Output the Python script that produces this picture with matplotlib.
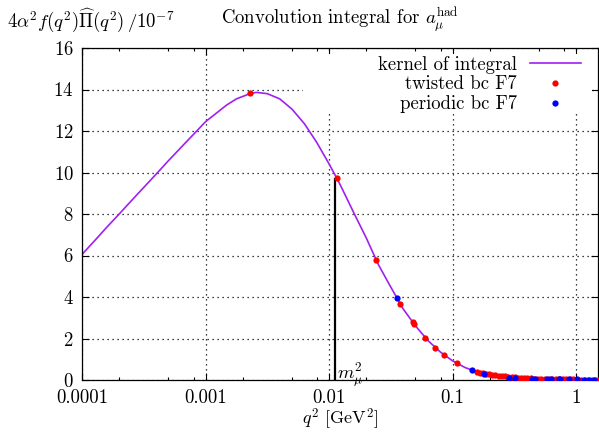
import matplotlib
matplotlib.use('Agg')
import matplotlib.pyplot as plt
import matplotlib as mpl
import numpy as np

plt.rcParams['font.family'] = 'serif'
plt.rcParams['font.serif'] = ['cmr10', 'DejaVu Serif']
plt.rcParams['mathtext.fontset'] = 'cm'
plt.rcParams['axes.formatter.use_mathtext'] = True
plt.rcParams['font.size'] = 13.5

# kernel of integral
kernel_q2 = [1e-4, 1.26e-4, 1.58e-4, 2e-4, 2.51e-4, 3.16e-4, 3.98e-4, 5.01e-4,
             6.31e-4, 7.94e-4, 1e-3, 1.26e-3, 1.48e-3, 1.78e-3, 2.29e-3, 2.57e-3,
             3.16e-3, 3.98e-3, 5.01e-3, 6.31e-3, 7.94e-3, 0.01, 0.01155, 0.0126,
             0.0158, 0.02, 0.0251, 0.0316, 0.0398, 0.0501, 0.0631, 0.0794,
             0.1, 0.126, 0.158, 0.2, 0.251, 0.316, 0.398, 0.631, 1.0, 1.5]
kernel_val = [6.05, 6.7, 7.35, 8.0, 8.64, 9.28, 9.92, 10.57,
              11.2, 11.82, 12.45, 12.92, 13.25, 13.55, 13.8, 13.86,
              13.8, 13.55, 13.05, 12.35, 11.45, 10.41, 9.72, 9.28,
              8.07, 6.84, 5.55, 4.47, 3.42, 2.6, 1.9, 1.35,
              0.92, 0.6, 0.39, 0.27, 0.18, 0.13, 0.09, 0.05, 0.03, 0.018]

# twisted bc F7
tw_q2 = [0.00229, 0.01155, 0.024, 0.0376, 0.0476, 0.049, 0.0598, 0.0721,
         0.0843, 0.108, 0.157, 0.165, 0.175, 0.185, 0.195, 0.21, 0.22,
         0.235, 0.25, 0.265, 0.28, 0.30, 0.32, 0.34, 0.36, 0.38, 0.40,
         0.43, 0.46, 0.49, 0.52, 0.56, 0.60, 0.64, 0.68, 0.73, 0.78, 0.83,
         0.89, 0.95, 1.02, 1.09, 1.17, 1.25, 1.34, 1.43, 1.5]
tw_val = [13.82, 9.72, 5.78, 3.66, 2.78, 2.70, 2.04, 1.54,
          1.22, 0.80, 0.39, 0.36, 0.33, 0.30, 0.28, 0.25, 0.23,
          0.21, 0.19, 0.17, 0.155, 0.14, 0.125, 0.115, 0.105, 0.097, 0.09,
          0.08, 0.072, 0.065, 0.06, 0.054, 0.049, 0.045, 0.041, 0.037, 0.034, 0.031,
          0.028, 0.026, 0.024, 0.022, 0.02, 0.018, 0.017, 0.016, 0.015]

# periodic bc F7
per_q2 = [0.0353, 0.143, 0.178, 0.283, 0.321, 0.437, 0.46, 0.58, 0.62,
          0.72, 0.74, 0.866, 1.01, 1.15, 1.26, 1.38]
per_val = [3.94, 0.48, 0.31, 0.12, 0.10, 0.07, 0.068, 0.05, 0.047,
           0.041, 0.04, 0.03, 0.025, 0.02, 0.018, 0.016]

mmu2 = 0.01116
mmu2_val = 9.75

xtick_vals = [1e-4, 1e-3, 1e-2, 1e-1, 1]
xtick_labels = ['0.0001', '0.001', '0.01', '0.1', '1']
ytick_vals = [0, 2, 4, 6, 8, 10, 12, 14, 16]

fig = plt.figure(figsize=(5.99, 4.32), dpi=100)
ax = fig.add_axes([82/599, 52/432, 516/599, 332/432])

ax.set_xscale('log')
ax.set_xlim(1e-4, 1.5)
ax.set_ylim(0, 16)
ax.set_xticks(xtick_vals, labels=xtick_labels)
ax.xaxis.set_minor_locator(mpl.ticker.LogLocator(base=10, subs=(2, 5, 8)))
ax.xaxis.set_minor_formatter(mpl.ticker.NullFormatter())
ax.set_yticks(ytick_vals)
ax.tick_params(which='both', direction='in', top=True, right=True, color='black')
ax.tick_params(which='major', length=5, width=0.8)
ax.tick_params(which='minor', length=2.5, width=0.8)
ax.tick_params(axis='x', which='major', pad=6.5)
ax.tick_params(axis='y', which='major', pad=6)
for lbl in ax.get_yticklabels():
    lbl.set_verticalalignment('center_baseline')
for s in ax.spines.values():
    s.set_linewidth(0.9)
ax.grid(True, which='major', color='black', linestyle=(0, (1, 3)), linewidth=0.9)

# opaque key area hides the grid
ax.add_patch(mpl.patches.Rectangle((221/516, 268/332), (510-221)/516, 58/332,
                                   transform=ax.transAxes, facecolor='white',
                                   edgecolor='none', zorder=1.8))

ax.plot(kernel_q2, kernel_val, color='#a020f0', lw=1.2, label='kernel of integral', zorder=2)
ax.plot(tw_q2, tw_val, 'o', color='red', ms=4.5, mew=0, label='twisted bc F7', zorder=3)
ax.plot(per_q2, per_val, 'o', color='blue', ms=4.5, mew=0, label='periodic bc F7', zorder=4)

ax.vlines(mmu2, 0, mmu2_val, color='black', lw=1.6, zorder=2.5)
ax.text(mmu2 * 1.03, -0.45, r'$m_\mu^2$', ha='left', va='bottom', fontsize=13.5)

leg = ax.legend(loc='upper right', bbox_to_anchor=(506/516, 1.0), markerfirst=False,
                frameon=False, numpoints=1, handlelength=2.7, handletextpad=0.7,
                labelspacing=0.1, borderaxespad=0.2, borderpad=0.2)

fig.text(7/599, 1 - 20/432, r'$4\alpha^2 f(q^2)\widehat{\Pi}(q^2)\,/10^{-7}$',
         ha='left', va='center', fontsize=13.5)
fig.text(340/599, 1 - 20/432, r'Convolution integral for $a_\mu^{\mathrm{had}}$',
         ha='center', va='center', fontsize=13.5)
ax.set_xlabel(r'$q^2$ [GeV$^2$]', fontsize=13)
ax.xaxis.set_label_coords((340 - 82)/516, -27/332)

fig.savefig('out.png', dpi=100)
